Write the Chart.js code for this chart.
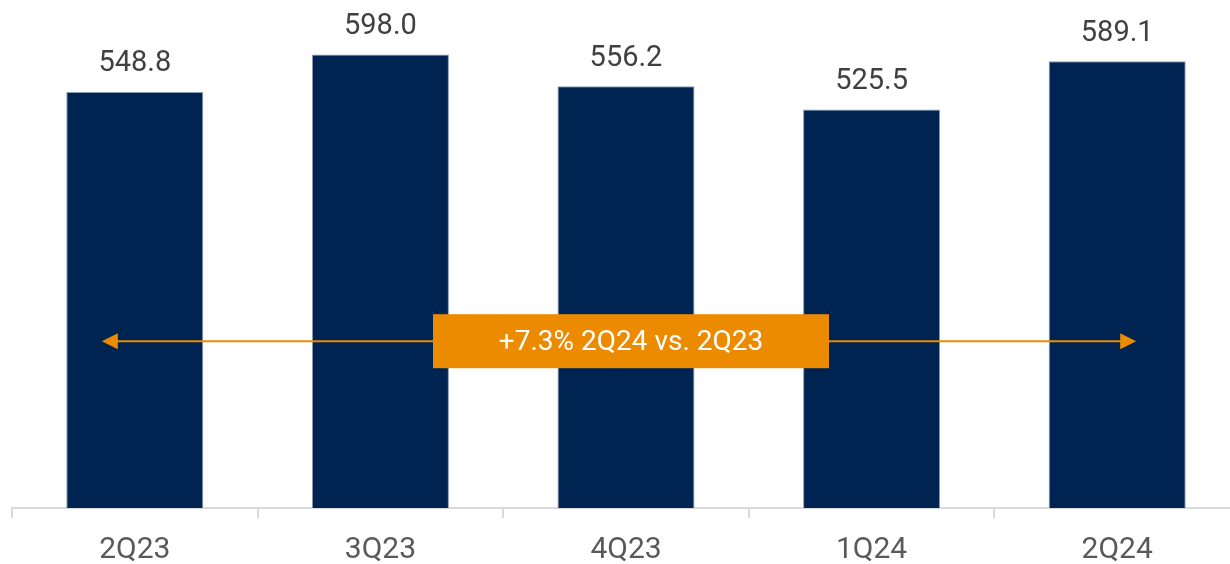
<!DOCTYPE html>
<html>
<head>
<meta charset="utf-8">
<script src="https://cdn.jsdelivr.net/npm/chart.js@4/dist/chart.umd.min.js"></script>
<style>
  html, body { margin: 0; padding: 0; background: #ffffff; overflow: hidden; }
  #wrap { width: 1250px; height: 564px; overflow: hidden; }
</style>
</head>
<body>
<div id="wrap"><canvas id="grafico" width="1250" height="582"></canvas></div>
<script>
const trimestres = ['2Q23', '3Q23', '4Q23', '1Q24', '2Q24'];
const valores = [548.8, 598.0, 556.2, 525.5, 589.1];
const textoVariacao = '+7.3% 2Q24 vs. 2Q23';

const AZUL = '#002452';
const LARANJA = '#ED8B00';

// rótulos de valor em cima de cada barra
const rotulosBarras = {
  id: 'rotulosBarras',
  afterDatasetsDraw(chart) {
    const ctx = chart.ctx;
    const meta = chart.getDatasetMeta(0);
    ctx.save();
    ctx.font = '29px Roboto';
    ctx.fillStyle = '#404040';
    ctx.textAlign = 'center';
    ctx.textBaseline = 'middle';
    meta.data.forEach((bar, i) => {
      ctx.fillText(valores[i].toFixed(1), bar.x, bar.y - 28);
    });
    ctx.restore();
  }
};

// seta de variação com a caixa laranja no meio
const setaVariacao = {
  id: 'setaVariacao',
  afterDatasetsDraw(chart) {
    const ctx = chart.ctx;
    const x = chart.scales.x;
    const y = chart.scales.y.getPixelForValue(220);
    const x1 = x.getPixelForValue(0) - 33;
    const x2 = x.getPixelForValue(4) + 19;
    const cx = (x.getPixelForValue(0) + x.getPixelForValue(4)) / 2 + 5;
    ctx.save();
    ctx.strokeStyle = LARANJA;
    ctx.fillStyle = LARANJA;
    ctx.lineWidth = 2;
    ctx.beginPath();
    ctx.moveTo(x1 + 10, y);
    ctx.lineTo(x2 - 10, y);
    ctx.stroke();
    // pontas
    ctx.beginPath();
    ctx.moveTo(x1, y);
    ctx.lineTo(x1 + 16, y - 8);
    ctx.lineTo(x1 + 16, y + 8);
    ctx.closePath();
    ctx.fill();
    ctx.beginPath();
    ctx.moveTo(x2, y);
    ctx.lineTo(x2 - 16, y - 8);
    ctx.lineTo(x2 - 16, y + 8);
    ctx.closePath();
    ctx.fill();
    // caixa
    ctx.fillRect(cx - 198, y - 27, 396, 54);
    ctx.fillStyle = '#ffffff';
    ctx.font = '28px Roboto';
    ctx.textAlign = 'center';
    ctx.textBaseline = 'middle';
    ctx.fillText(textoVariacao, cx, y + 2);
    ctx.restore();
  }
};

new Chart(document.getElementById('grafico'), {
  type: 'bar',
  data: {
    labels: trimestres,
    datasets: [{
      data: valores,
      backgroundColor: AZUL,
      borderColor: '#8a9bb5',
      borderWidth: 1,
      categoryPercentage: 1,
      barPercentage: 0.558
    }]
  },
  options: {
    responsive: false,
    animation: false,
    layout: { padding: { left: 12, right: 10, top: 0, bottom: 0 } },
    plugins: { legend: { display: false }, tooltip: { enabled: false } },
    scales: {
      y: { display: false, min: 0, max: 670 },
      x: {
        border: { display: true, color: '#D9D9D9', width: 2 },
        grid: { display: true, drawOnChartArea: false, drawTicks: true, tickLength: 10, color: '#D9D9D9', lineWidth: 2 },
        ticks: { color: '#595959', padding: 14, font: { family: 'Roboto', size: 30 } }
      }
    }
  },
  plugins: [rotulosBarras, setaVariacao]
});
</script>
</body>
</html>
